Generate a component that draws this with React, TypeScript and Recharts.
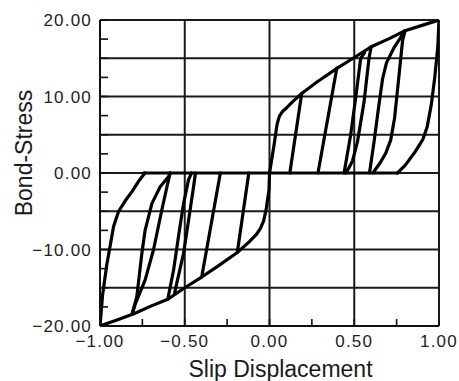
import { LineChart, Line, XAxis, YAxis, CartesianGrid } from 'recharts'

type Pt = [number, number]

// loading envelopes
const envelopePos: Pt[] = [
  [0, 0], [0.012, 1.6], [0.025, 3.4], [0.045, 6.4], [0.058, 7.4], [0.075, 8.0], [0.1, 8.5],
  [0.14, 9.4], [0.19, 10.4], [0.28, 11.9], [0.4, 13.7], [0.5, 15.1], [0.6, 16.5], [0.7, 17.5],
  [0.8, 18.6], [0.9, 19.3], [1.0, 20],
]
const envelopeNeg: Pt[] = [
  [0, 0], [-0.003, -2.2], [-0.02, -4.8], [-0.035, -6.3], [-0.055, -7.3], [-0.08, -8.1], [-0.12, -9.0],
  [-0.19, -10.4], [-0.3, -12.1], [-0.4, -13.6], [-0.5, -15.0], [-0.6, -16.5], [-0.7, -17.4],
  [-0.8, -18.4], [-0.9, -19.2], [-1.0, -20],
]
const zeroBranch: Pt[] = [[-0.745, 0], [0.755, 0]]

// positive side cycles
const cyclePos1: Pt[] = [[0.12, 0], [0.19, 10.4]]
const cyclePos2: Pt[] = [[0.286, 0], [0.397, 13.7]]
const cyclePos3Down: Pt[] = [[0.6, 16.5], [0.587, 15.0], [0.558, 9.3], [0.519, 4.1], [0.49, 1.6], [0.469, 0.7], [0.45, 0]]
const cyclePos3Up: Pt[] = [[0.44, 0], [0.479, 5.0], [0.513, 10.6], [0.538, 15.0], [0.56, 15.7]]
const cyclePos4Down: Pt[] = [[0.8, 18.6], [0.785, 17.3], [0.762, 12.3], [0.738, 7.2], [0.715, 4.3], [0.686, 2.6], [0.655, 1.4], [0.61, 0]]
const cyclePos4Up: Pt[] = [[0.59, 0], [0.617, 4.1], [0.643, 8.5], [0.667, 12.3], [0.69, 14.4], [0.735, 16.4], [0.8, 18.6]]
const cyclePos5: Pt[] = [[1.0, 20], [0.993, 16.5], [0.975, 12.5], [0.955, 9.0], [0.93, 6.0], [0.905, 4.4], [0.86, 2.8], [0.8, 1.0], [0.755, 0]]

// negative side cycles
const cycleNeg1: Pt[] = [[-0.122, 0], [-0.19, -10.4]]
const cycleNeg2: Pt[] = [[-0.29, 0], [-0.4, -13.6]]
const cycleNeg3Up: Pt[] = [[-0.6, -16.5], [-0.566, -12.7], [-0.537, -8.3], [-0.507, -4.0], [-0.478, -0.9], [-0.46, 0]]
const cycleNeg3Down: Pt[] = [[-0.56, -15.7], [-0.545, -14.2], [-0.507, -10.5], [-0.477, -6.1], [-0.448, -1.8], [-0.437, 0]]
const cycleNeg4Up: Pt[] = [[-0.81, -18.4], [-0.783, -16.2], [-0.753, -10.5], [-0.734, -7.5], [-0.694, -4.0], [-0.645, -1.8], [-0.596, -0.5], [-0.585, 0]]
const cycleNeg4Down: Pt[] = [[-0.81, -18.4], [-0.79, -17.0], [-0.734, -14.0], [-0.685, -10.1], [-0.635, -4.8], [-0.605, -1.8], [-0.586, 0]]
const cycleNeg5: Pt[] = [[-1.0, -20], [-0.985, -16.0], [-0.96, -12.0], [-0.94, -9.5], [-0.92, -7.0], [-0.89, -5.0], [-0.85, -3.6], [-0.81, -2.4], [-0.77, -1.0], [-0.735, 0]]

const branches: Pt[][] = [
  envelopePos, envelopeNeg, zeroBranch,
  cyclePos1, cyclePos2, cyclePos3Down, cyclePos3Up, cyclePos4Down, cyclePos4Up, cyclePos5,
  cycleNeg1, cycleNeg2, cycleNeg3Up, cycleNeg3Down, cycleNeg4Up, cycleNeg4Down, cycleNeg5,
]

const xTicks = [-1, -0.75, -0.5, -0.25, 0, 0.25, 0.5, 0.75, 1]
const xMinor = [-0.75, -0.25, 0.25, 0.75]
const yTicks = [-20, -17.5, -15, -12.5, -10, -7.5, -5, -2.5, 0, 2.5, 5, 7.5, 10, 12.5, 15, 17.5, 20]
const yMinor = [-17.5, -12.5, -7.5, -2.5, 2.5, 7.5, 12.5, 17.5]
const gridX = [-1, -0.5, 0, 0.5, 1]
const gridY = [-20, -15, -10, -5, 0, 5, 10, 15, 20]

const FONT = '"Liberation Sans", Arial, Helvetica, sans-serif'
const fmt = (v: number) => v.toFixed(2).replace('-', '\u2212')
const tickStyle = { fill: '#222', fontSize: 17, fontFamily: FONT, letterSpacing: 1.2 }
const axisStroke = { stroke: '#111', strokeWidth: 2 }
const tickStroke = { stroke: '#111', strokeWidth: 1.6 }

const XTitle = ({ viewBox }: any) => (
  <text
    x={viewBox.x + viewBox.width / 2 + 11}
    y={377}
    textAnchor="middle"
    fontSize={23}
    fontFamily={FONT}
    fill="#1a1a1a"
  >
    Slip Displacement
  </text>
)

const YTitle = ({ viewBox }: any) => {
  const cx = 32
  const cy = viewBox.y + viewBox.height / 2 - 20
  return (
    <text
      x={cx}
      y={cy}
      transform={`rotate(-90, ${cx}, ${cy})`}
      textAnchor="middle"
      fontSize={23}
      fontFamily={FONT}
      fill="#1a1a1a"
    >
      Bond-Stress
    </text>
  )
}

export default function App() {
  return (
    <div style={{ position: 'absolute', left: 0, top: 0, background: '#fff' }}>
      <LineChart
        width={459}
        height={381}
        margin={{ top: 20, right: 20, bottom: 0, left: 0 }}
        style={{ fontFamily: FONT }}
      >
        <CartesianGrid
          horizontalValues={gridY}
          verticalValues={gridX}
          stroke="#1a1a1a"
          strokeWidth={2}
        />
        <XAxis
          dataKey="x"
          type="number"
          domain={[-1, 1]}
          allowDataOverflow
          ticks={xTicks}
          interval={0}
          tickFormatter={(v: number) => (Math.abs((v * 2) % 1) < 1e-9 ? fmt(v) : '')}
          tick={tickStyle}
          tickSize={-7}
          tickMargin={16}
          tickLine={tickStroke}
          axisLine={axisStroke}
          height={55}
          label={{ content: XTitle }}
        />
        <XAxis
          xAxisId="top"
          orientation="top"
          type="number"
          domain={[-1, 1]}
          allowDataOverflow
          ticks={xMinor}
          interval={0}
          tick={false}
          tickSize={-7}
          tickLine={tickStroke}
          axisLine={axisStroke}
          height={0}
        />
        <YAxis
          type="number"
          domain={[-20, 20]}
          allowDataOverflow
          ticks={yTicks}
          interval={0}
          tickFormatter={(v: number) => (v % 10 === 0 ? fmt(v) : '')}
          tick={tickStyle}
          tickSize={-8}
          tickMargin={16}
          tickLine={tickStroke}
          axisLine={axisStroke}
          width={100}
          label={{ content: YTitle }}
        />
        <YAxis
          yAxisId="right"
          orientation="right"
          type="number"
          domain={[-20, 20]}
          allowDataOverflow
          ticks={yMinor}
          interval={0}
          tick={false}
          tickSize={-8}
          tickLine={tickStroke}
          axisLine={axisStroke}
          width={0}
        />
        {branches.map((pts, i) => (
          <Line
            key={i}
            data={pts.map(([x, y]) => ({ x, y }))}
            dataKey="y"
            type="linear"
            stroke="#000"
            strokeWidth={3.2}
            strokeLinejoin="round"
            strokeLinecap="round"
            dot={false}
            activeDot={false}
            isAnimationActive={false}
          />
        ))}
      </LineChart>
    </div>
  )
}
